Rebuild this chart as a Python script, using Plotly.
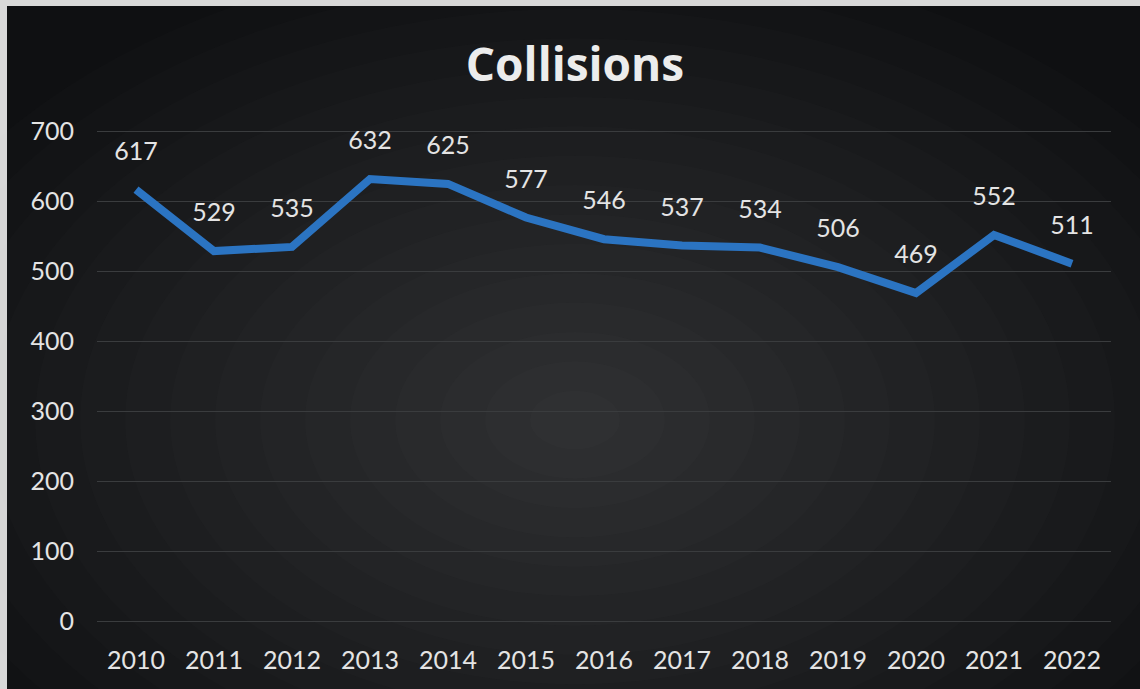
import plotly.graph_objects as go

# Annual collision counts
years = ["2010", "2011", "2012", "2013", "2014", "2015", "2016",
         "2017", "2018", "2019", "2020", "2021", "2022"]
collisions = [617, 529, 535, 632, 625, 577, 546, 537, 534, 506, 469, 552, 511]
y_ticks = [0, 100, 200, 300, 400, 500, 600, 700]

W, H = 1140, 689
L, R, T, B = 97, 29, 128, 68
pw, ph = W - L - R, H - T - B


def px_x(px):
    return (px - L) / pw


def px_y(py):
    return (H - B - py) / ph


FONT = "Lato"
TEXT = "#e4e4e4"

fig = go.Figure()
fig.add_trace(go.Scatter(
    x=years, y=collisions,
    mode="lines+markers+text",
    line=dict(color="#2b74c2", width=8),
    marker=dict(size=36, color="rgba(0,0,0,0)"),
    text=[str(v) for v in collisions],
    textposition="top center",
    textfont=dict(family=FONT, size=25, color=TEXT),
    hoverinfo="skip",
    cliponaxis=False,
))

shapes = []
# dark card on a light frame
shapes.append(dict(type="rect", xref="paper", yref="paper", layer="below",
                   x0=px_x(7), x1=px_x(W + 5), y0=px_y(H + 5), y1=px_y(6),
                   fillcolor="#0f1012", line=dict(width=0)))
# soft radial glow toward the middle of the card
cx, cy = 575, 420
n = 16
for i in range(n):
    f = 1 - i / n
    rx, ry = 720 * f, 470 * f
    shapes.append(dict(type="circle", xref="paper", yref="paper", layer="below",
                       x0=px_x(cx - rx), x1=px_x(cx + rx),
                       y0=px_y(cy + ry), y1=px_y(cy - ry),
                       fillcolor="rgba(175,182,186,0.017)", line=dict(width=0)))

fig.update_layout(
    width=W, height=H,
    margin=dict(l=L, r=R, t=T, b=B),
    paper_bgcolor="#d9d9d9",
    plot_bgcolor="rgba(0,0,0,0)",
    showlegend=False,
    shapes=shapes,
    title=dict(text="<b>Collisions</b>", x=575 / W, xanchor="center",
               y=1 - 65 / H, yanchor="middle",
               font=dict(family="Open Sans", size=46, color="#ececec")),
    xaxis=dict(
        type="category", range=[-0.5, 12.5], showgrid=False, zeroline=False,
        showline=False, ticks="", tickfont=dict(family=FONT, size=25, color=TEXT),
        ticklabelstandoff=22,
    ),
    yaxis=dict(
        range=[0, 705], tickvals=y_ticks, showline=False,
        zeroline=True, zerolinecolor="#3a3c3e", zerolinewidth=1,
        gridcolor="#3a3c3e", gridwidth=1, ticks="",
        tickfont=dict(family=FONT, size=25, color=TEXT),
        ticklabelstandoff=22,
    ),
)

fig.write_html("out.html")
